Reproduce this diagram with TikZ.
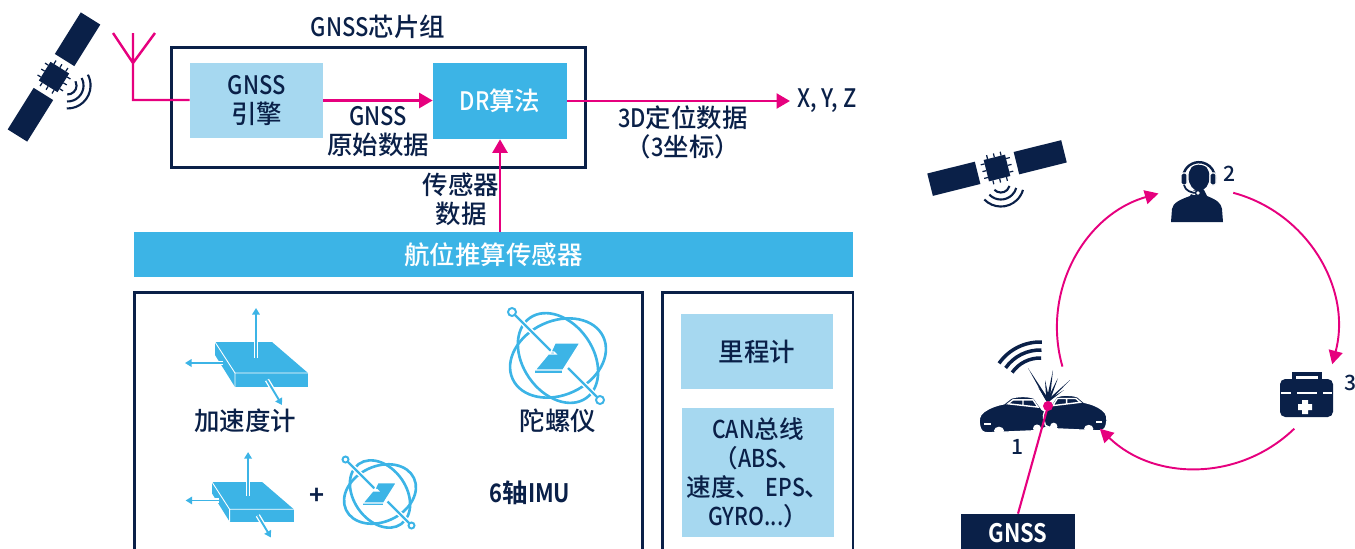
\documentclass[tikz,border=0pt]{standalone}
\usepackage{fontspec}
\setmainfont{Noto Sans CJK SC}[UprightFont=* Medium, BoldFont=* Bold]
\newfontfamily\narrowlatin{Noto Sans CJK SC}[UprightFont=* Medium, BoldFont=* Bold, FakeStretch=0.86]
\newcommand{\nar}[1]{{\narrowlatin #1}}
\usetikzlibrary{arrows.meta}
\definecolor{navy}{HTML}{0A2048}
\definecolor{stpink}{HTML}{E6007E}
\definecolor{sky}{HTML}{3CB4E6}
\definecolor{pale}{HTML}{A6D8F0}
\begin{document}
\begin{tikzpicture}[x=0.02cm,y=0.02cm,
  lbl/.style={text=navy, font=\fontsize{14.5}{16.5}\selectfont, align=center, inner sep=0pt},
  num/.style={text=navy, font=\fontsize{12}{14}\selectfont, inner sep=0pt},
  frame/.style={draw=navy, line width=1.7pt, inner sep=0pt},
  palebox/.style={fill=pale, inner sep=0pt, text=navy, align=center, font=\fontsize{14.5}{16.5}\selectfont},
  skybox/.style={fill=sky, inner sep=0pt, text=white, align=center, font=\fontsize{14.5}{16.5}\selectfont},
  flow/.style={draw=stpink, line width=1.4pt, -{Triangle[length=0.27cm,width=0.3cm]}},
  cyc/.style={draw=stpink, line width=1.1pt, -{Triangle[length=0.27cm,width=0.28cm]}},
  sensorarrow/.style={draw=sky, line width=1.1pt, -{Triangle[length=0.13cm,width=0.15cm]}},
  % satellite: body along local x, signal toward local -y
  sat/.pic={
    \fill[navy] (20,-11.5) rectangle (69,11.5);
    \fill[navy] (-69,-11.5) rectangle (-20,11.5);
    \fill[navy] (-11,-11) rectangle (11,11);
    \foreach \t in {-7,0,7}{
      \draw[navy, line width=0.7pt] (\t,11) -- (\t,15) (\t,-11) -- (\t,-15) (11,\t) -- (15,\t) (-11,\t) -- (-15,\t);
    }
    \foreach \r in {9,16,23}{
      \draw[navy, line width=1.2pt] ([shift={(-150:\r*0.02cm)}]0,-16) arc[start angle=-150, end angle=-30, radius=\r*0.02cm];
    }
  },
  % accelerometer slab with three axes
  accel/.pic={
    \fill[sky] (0,0) -- (57,0) -- (93,-31) -- (20,-31) -- cycle;
    \fill[sky] (20,-31) -- (93,-31) -- (93,-45) -- (20,-45) -- cycle;
    \fill[sky] (0,0) -- (20,-31) -- (20,-45) -- (0,-13) -- cycle;
    \draw[white, line width=0.5pt] (0,0) -- (20,-31) -- (93,-31) (20,-31) -- (20,-45);
    \draw[white, line width=2.6pt] (41,-16) -- (41,26);
    \draw[sensorarrow] (41,-16) -- (41,34);
    \draw[white, line width=2.6pt] (8,-21) -- (-4,-21);
    \draw[sensorarrow] (8,-21) -- (-30,-21);
    \draw[white, line width=2.6pt] (52,-38) -- (58,-48);
    \draw[sensorarrow] (52,-38) -- (67,-63);
  },
  % gyroscope rings with spin axis and rotor plate
  gyro/.pic={
    \draw[sky, line width=1.5pt, rotate=25] (0,0) ellipse[x radius=1cm, y radius=0.74cm];
    \draw[sky, line width=1.5pt, rotate=-55] (0,0) ellipse[x radius=0.98cm, y radius=0.7cm];
    \draw[white, line width=3pt] (-44,44) -- (40,-40);
    \draw[sky, line width=1.3pt] (-46,46) -- (-4,4) (10,-10) -- (42,-42);
    \filldraw[fill=white, draw=sky, line width=1.1pt] (-46,46) circle[radius=0.08cm] (42,-42) circle[radius=0.08cm];
    \fill[sky] (-23,-12) -- (5,-12) -- (5,-15) -- (-23,-15) -- cycle;
    \filldraw[fill=sky, draw=white, line width=0.7pt] (-3,15) -- (22,15) -- (5,-12) -- (-23,-12) -- (-8,6) -- (-4,6) -- (-2,4) -- (-8,4) -- cycle;
    \draw[white, line width=0.7pt] (5,-12) -- (5,-15);
  },
  % call-centre agent with headset
  agent/.pic={
    \fill[navy] (-26,-44) -- (-25,-31) .. controls (-24,-25) and (-18,-22) .. (-7,-18) -- (-4,-12) -- (7,-12) -- (10,-18) .. controls (20,-22) and (24,-25) .. (25,-31) -- (26,-44) -- cycle;
    \fill[navy] (2,1) ellipse[x radius=0.21cm, y radius=0.28cm];
    \draw[white, line width=2.8pt] (-14,-1) arc[start angle=183, end angle=-3, radius=0.32cm];
    \draw[navy, line width=1.4pt] (-14,-1) arc[start angle=183, end angle=-3, radius=0.32cm];
    \filldraw[fill=navy, draw=white, line width=0.6pt, rounded corners=1pt] (-16,-7) rectangle (-10,5);
    \filldraw[fill=navy, draw=white, line width=0.6pt, rounded corners=1pt] (13,-7) rectangle (19,5);
    \draw[white, line width=2.4pt] (-12,-7) .. controls (-11,-13) and (-5,-15) .. (0,-15);
    \draw[navy, line width=1pt] (-13,-7) .. controls (-12,-13) and (-5,-15) .. (0,-15);
    \filldraw[fill=white, draw=navy, line width=0.8pt] (1,-15) circle[radius=0.05cm];
  },
  % sedan facing right, origin at bottom left
  car/.pic={
    \filldraw[fill=navy, draw=white, line width=0.8pt] (2,6) .. controls (0,12) and (1,17) .. (6,20) .. controls (12,24) and (20,26) .. (26,27) -- (33,32) .. controls (40,34) and (50,34) .. (56,32) -- (64,22) .. controls (69,20) and (71,16) .. (70,12) -- (68,6) -- (60,3) -- (10,1) .. controls (5,1) and (3,3) .. (2,6) -- cycle;
    \draw[white, line width=0.8pt] (30,27) -- (35,30.5) -- (55,30.5) -- (60,24) -- cycle (45,30.5) -- (45,25.5);
    \fill[white] (21,3) ellipse[x radius=0.1cm, y radius=0.07cm];
    \fill[white] (59,5) ellipse[x radius=0.08cm, y radius=0.07cm];
    \draw[white, line width=0.8pt] (6,9) -- (13,9);
  }
]
\useasboundingbox (0,0) rectangle (1355,-548);

% ---------------- GNSS chipset ----------------
\node[frame, minimum width=8.3cm, minimum height=2.42cm] (chip) at (378.5,-107.5) {};
\node[lbl] (chiptitle) at (378,-27) {\nar{GNSS}芯片组};
\node[palebox, minimum width=2.66cm, minimum height=1.5cm] (eng) at (256.5,-100.5) {\nar{GNSS}\\引擎};
\node[skybox, minimum width=2.68cm, minimum height=1.52cm] (dr) at (500,-101) {\nar{DR}算法};
\node[lbl] (raw) at (378,-132) {\nar{GNSS}\\原始数据};
\node[lbl] (pos) at (683,-132) {\nar{3D}定位数据\\（\nar{3}坐标）};
\node[lbl, anchor=west] (xyz) at (797,-101) {\nar{X, Y, Z}};
\node[lbl] (sens) at (461,-199) {传感器\\数据};

% satellite and antenna
\pic[rotate=58] at (54,-77) {sat};
\coordinate (antL) at (113,-33);
\coordinate (antR) at (155,-33);
\coordinate (antTop) at (133,-33);
\coordinate (antJ) at (133,-63);
\coordinate (antFoot) at (133,-100);
\draw[stpink, line width=1.4pt] (antL) -- (antJ) -- (antR) (antTop) -- (antFoot) -- (antFoot -| eng.west);

\draw[flow] (eng.east) -- (eng.east -| dr.west);
\draw[flow] (dr.east) -- ([xshift=-0.14cm]xyz.west);

% ---------------- dead-reckoning sensors ----------------
\node[skybox, minimum width=14.38cm, minimum height=0.9cm] (bar) at (493.5,-254.5) {航位推算传感器};
\draw[flow] (bar.north -| dr.south) -- (dr.south);

\node[frame, minimum width=10.18cm, minimum height=5.4cm] (imubox) at (388.5,-427) {};
\node[frame, minimum width=3.82cm, minimum height=5.4cm] (vehbox) at (757.5,-427) {};

\pic at (215,-342) {accel};
\node[lbl] (acc) at (245,-421) {加速度计};
\pic at (558,-358) {gyro};
\node[lbl] (gyr) at (558,-421) {陀螺仪};
\pic[scale=0.88] at (212,-482) {accel};
\node[lbl, font=\fontsize{14.5}{16.5}\selectfont\bfseries] (plus) at (317,-496) {+};
\pic[scale=0.75] at (380,-494) {gyro};
\node[lbl, font=\fontsize{14.5}{16.5}\selectfont\bfseries] (imu6) at (530,-493) {\nar{\bfseries 6}轴\nar{\bfseries IMU}};

\node[palebox, minimum width=3.04cm, minimum height=1.5cm] (odo) at (757,-351.5) {里程计};
\node[palebox, minimum width=3.04cm, minimum height=2.58cm, font=\fontsize{14}{16.5}\selectfont] (can) at (758,-472.5) {\nar{CAN}总线\\（\nar{ABS}、\\速度、 \nar{EPS}、\\\nar{GYRO...}）};

% ---------------- emergency call loop ----------------
\pic[rotate=14] at (997,-168) {sat};
\pic at (1197,-178) {agent};
\node[num] (n2) at (1229,-174) {2};

% medical kit
\draw[navy, line width=2.2pt] (1294,-381) -- (1294,-374) -- (1320,-374) -- (1320,-381);
\fill[navy, rounded corners=3pt] (1280,-379) rectangle (1333,-417);
\draw[white, line width=0.9pt] (1281,-393) -- (1291,-393) (1297,-393) -- (1317,-393) (1323,-393) -- (1332,-393);
\fill[white] (1302,-400) rectangle (1308,-414) (1298,-404) rectangle (1312,-410);
\node[num] (n3) at (1350,-383) {3};

% crash
\foreach \r in {1.0,0.84,0.68}{
  \draw[navy, line width=2pt] ([shift={(145:\r cm)}]1040,-392) arc[start angle=145, end angle=88, radius=\r cm];
}
\pic[yscale=1.12] at (978,-434) {car};
\pic[xscale=-0.92, yscale=1.1] at (1108,-432) {car};
\foreach \tx/\ty in {1028/368, 1038/387, 1045/380, 1053/370, 1058/378, 1070/380, 1064/390}{
  \fill[navy] (\tx,-\ty) -- (1046.3,-401) -- (1049.7,-401) -- cycle;
}
\node[num] (n1) at (1017,-447) {1};

\node[fill=navy, text=white, font=\fontsize{14.5}{16.5}\selectfont\bfseries, minimum width=2.28cm, minimum height=0.76cm, inner sep=0pt] (gnss) at (1018,-533) {\nar{\bfseries GNSS}};
\coordinate (hit) at (1048,-406);
\draw[stpink, line width=1.2pt] (hit) -- (gnss.north);
\node[circle, fill=stpink, minimum size=0.2cm, inner sep=0pt] (crash) at (hit) {};

\coordinate (loop) at (1197,-328);
\coordinate (a1s) at ([shift={(196:2.8cm)}]loop);
\coordinate (a1e) at ([shift={(106:2.8cm)}]loop);
\coordinate (a2s) at ([shift={(75:2.8cm)}]loop);
\coordinate (a2e) at ([shift={(-15:2.8cm)}]loop);
\coordinate (a3s) at ([shift={(-46:2.8cm)}]loop);
\coordinate (a3e) at ([shift={(-134:2.8cm)}]loop);
\draw[cyc] (a1s) to[bend left=45] (a1e);
\draw[cyc] (a2s) to[bend left=45] (a2e);
\draw[cyc] (a3s) to[bend left=44] (a3e);
\end{tikzpicture}
\end{document}
